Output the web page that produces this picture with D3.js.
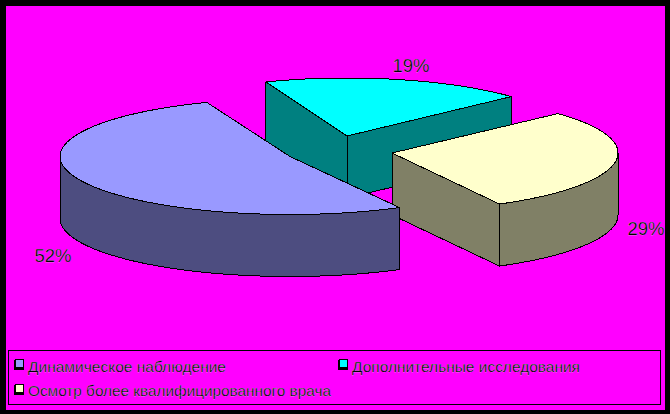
<!DOCTYPE html>
<html><head><meta charset="utf-8">
<script src="https://cdnjs.cloudflare.com/ajax/libs/d3/7.8.5/d3.min.js"></script>
<style>html,body{margin:0;padding:0;background:#000}svg{display:block}</style>
</head><body><svg id="c" width="670" height="414"></svg>
<script>
const categories = ["Динамическое наблюдение", "Дополнительные исследования", "Осмотр более квалифицированного врача"];
const values = [52, 19, 29];
const labels = ["52%", "19%", "29%"];
const topColors = ["#9999FF", "#00FFFF", "#FFFFCC"];
const sideColors = ["#4D4D80", "#008080", "#808066"];

// layout
const W = 670, H = 414, RY = 58, DEPTH = 62;
const centres = [[290, 156.5], [347, 136], [392, 153]];
const radii = [230, 224, 226];
const labelPos = [[53, 262], [411, 72], [646, 235]];
const drawOrder = [1, 2, 0];
const TAU = 2 * Math.PI;

const svg = d3.select("#c");
svg.append("rect").attr("width", W).attr("height", H).attr("fill", "#000");
svg.append("rect").attr("x", 6).attr("y", 6).attr("width", 659).attr("height", 404).attr("fill", "#FF00FF");

const arcs = d3.pie().sort(null).value(d => d)
  .startAngle(151.6 * Math.PI / 180).endAngle((151.6 + 360) * Math.PI / 180)(values);

const line = d3.line();
function pt(i, a, z) {
  return [centres[i][0] + radii[i] * Math.sin(a), centres[i][1] - RY * Math.cos(a) + z];
}
const stroke = s => s.attr("stroke", "#000").attr("stroke-width", 1)
  .attr("stroke-linejoin", "round").attr("shape-rendering", "crispEdges");

drawOrder.forEach(i => {
  const g = svg.append("g");
  const shift = arcs[i].startAngle >= TAU ? TAU : 0;
  const a0 = arcs[i].startAngle - shift, a1 = arcs[i].endAngle - shift;
  const c = centres[i];
  // visible cut faces
  [[a0, Math.sin(a0) < 0], [a1, Math.sin(a1) > 0]].forEach(([a, vis]) => {
    if (!vis) return;
    const p = pt(i, a, 0), q = pt(i, a, DEPTH);
    g.append("path").attr("d", line([c, p, q, [c[0], c[1] + DEPTH]]) + "Z")
      .attr("fill", sideColors[i]).call(stroke);
  });
  // outer rim, front half only
  const front0 = Math.max(a0, Math.PI / 2), front1 = Math.min(a1, 3 * Math.PI / 2);
  if (front1 > front0) {
    const ts = d3.scaleLinear().domain([0, 80]).range([front0, front1]);
    const angles = d3.range(81).map(ts);
    const pts = angles.map(a => pt(i, a, 0)).concat(angles.slice().reverse().map(a => pt(i, a, DEPTH)));
    g.append("path").attr("d", line(pts) + "Z").attr("fill", sideColors[i]).call(stroke);
  }
  // top face
  const ts = d3.scaleLinear().domain([0, 120]).range([a0, a1]);
  const tp = [c].concat(d3.range(121).map(k => pt(i, ts(k), 0)));
  g.append("path").attr("d", line(tp) + "Z").attr("fill", topColors[i]).call(stroke);
});

const FONT = "Liberation Sans, Arial, sans-serif";
// percentage labels
labels.forEach((t, i) => {
  svg.append("text").attr("x", labelPos[i][0]).attr("y", labelPos[i][1])
    .attr("text-anchor", "middle").attr("font-family", FONT)
    .attr("font-size", 18.5).attr("fill", "#000")
    .attr("stroke", "#ddd").attr("stroke-width", 0.25).text(t);
});

// legend
svg.append("rect").attr("x", 8.5).attr("y", 350.5).attr("width", 652).attr("height", 53.5)
  .attr("fill", "none").attr("stroke", "#000").attr("shape-rendering", "crispEdges");
const legendPos = [[15, 360, 372, 198], [339, 360, 372, 228], [15, 385, 396, 303]];
categories.forEach((t, i) => {
  const [x, y, base, len] = legendPos[i];
  svg.append("rect").attr("x", x - 1).attr("y", y).attr("width", 10).attr("height", 10).attr("fill", "#000");
  svg.append("rect").attr("x", x + .5).attr("y", y - .5).attr("width", 8).attr("height", 8)
    .attr("fill", topColors[i]).attr("stroke", "#000");
  svg.append("text").attr("x", x + 13).attr("y", base)
    .attr("font-family", FONT).attr("font-size", 15.5)
    .attr("textLength", len).attr("lengthAdjust", "spacingAndGlyphs")
    .attr("fill", "#000").attr("stroke", "#ddd").attr("stroke-width", 0.25).text(t);
});
</script></body></html>
